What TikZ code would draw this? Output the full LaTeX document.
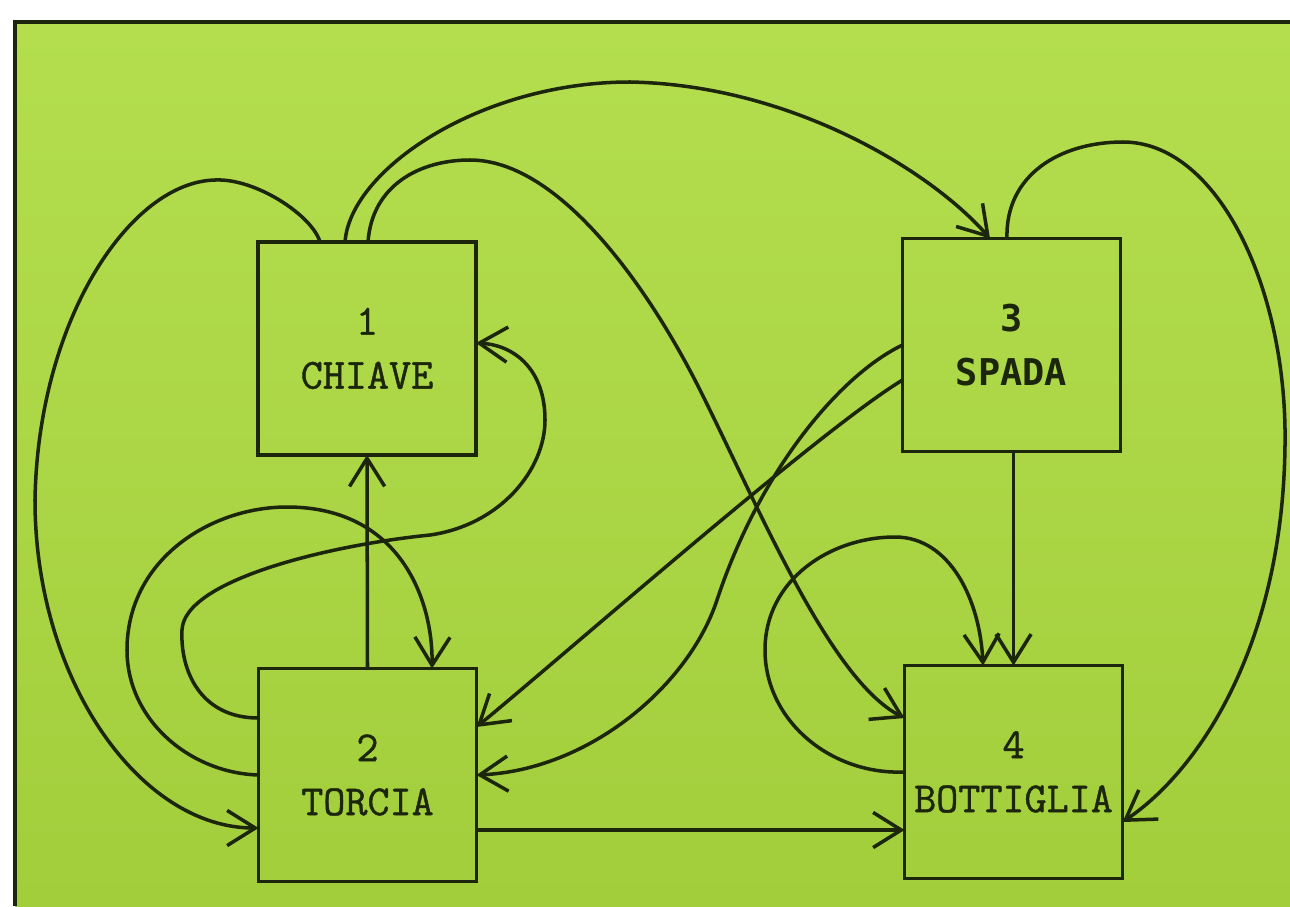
\documentclass[tikz,border=0pt]{standalone}
\usepackage{fontspec}
\newfontfamily\courierface[FakeBold=1]{Latin Modern Mono}
\newfontfamily\gothicface{DejaVu Sans Mono}
\usetikzlibrary{arrows.meta,calc}
\definecolor{paperlight}{HTML}{B4DE4E}
\definecolor{paperdark}{HTML}{A3CE3C}
\definecolor{ink}{HTML}{1C260C}
\tikzset{
  item/.style={draw=ink, line width=2pt, minimum width=4.36cm, minimum height=4.26cm,
    inner sep=0pt, outer sep=0pt, align=center, text=ink,
    font=\courierface\fontsize{24.4}{30.7}\selectfont},
  link/.style={draw=ink, line width=2pt, -{Straight Barb[length=16pt,width=20pt]}},
  frame/.style={draw=ink, line width=1.8pt}
}
\begin{document}
\begin{tikzpicture}[x=0.02cm,y=-0.02cm]
\useasboundingbox (0,0) rectangle (1290,906);
% paper and its frame
\fill[white] (0,0) rectangle (1290,906);
\fill[top color=paperlight, bottom color=paperdark] (15,22) rectangle (1290,906);
\draw[frame] (15,906) -- (15,22) -- (1290,22);

% the four objects
\node[item] (b1) at (367,348.5) {1\\CHIAVE};
\node[item] (b2) at (367.5,775) {2\\TORCIA};
\node[item, font=\gothicface\bfseries\fontsize{21}{30.7}\selectfont] (b3) at (1011.5,345) {3\\SPADA};
\node[item] (b4) at (1013.5,772) {4\\BOTTIGLIA};

% 1 -> 2, round the left side
\draw[link] ($(b1.north west)+(62,0)$) .. controls (312,215) and (255,178) .. (215,180)
  .. controls (130,182) and (38,320) .. (35,500)
  .. controls (35,680) and (140,828) .. ($(b2.west)+(0,53)$);
% 1 -> 3, over the top
\draw[link] ($(b1.north west)+(87,0)$) .. controls (350,170) and (480,82) .. (630,82)
  .. controls (790,85) and (930,170) .. ($(b3.north)+(-21.5,0)$);
% 1 -> 4, across the middle
\draw[link] ($(b1.north)+(1,0)$) .. controls (372,185) and (420,160) .. (470,160)
  .. controls (560,160) and (650,290) .. (700,390)
  .. controls (760,510) and (830,680) .. ($(b4.west)+(0,-54)$);
% 2 -> 1, straight up
\draw[link] (b2.north) -- (b1.south);
% 2 -> 1, looping round to the right side of 1
\draw[link] ($(b2.west)+(0,-57)$) .. controls (200,718) and (180,670) .. (182,630)
  .. controls (184,580) and (330,545) .. (430,535)
  .. controls (500,525) and (545,470) .. (545,420)
  .. controls (545,370) and (515,345) .. ($(b1.east)+(0,-5.5)$);
% 2 -> 2, loop on the left
\draw[link] (b2.west) .. controls (190,773) and (127,720) .. (127,650)
  .. controls (127,560) and (210,507) .. (287,507)
  .. controls (400,507) and (433,600) .. ($(b2.north)+(64.5,0)$);
% 3 -> 2, the two crossing lines
\draw[link] (b3.west) .. controls (840,375) and (760,470) .. (717,600)
  .. controls (689,685) and (590,770) .. (b2.east);
\draw[link] ($(b3.west)+(0,35)$) .. controls (820,430) and (570,650) .. ($(b2.east)+(0,-48)$);
% 3 -> 4, straight down
\draw[link] (b3.south -| b4.north) -- (b4.north);
% 3 -> 4, round the right side
\draw[link] ($(b3.north)+(-4.5,0)$) .. controls (1005,175) and (1060,142) .. (1123,142)
  .. controls (1215,142) and (1283,280) .. (1285,430)
  .. controls (1287,640) and (1200,770) .. ($(b4.east)+(0,50)$);
% 4 -> 4, loop on the left
\draw[link] (b4.west) .. controls (830,775) and (765,720) .. (765,650)
  .. controls (765,580) and (830,537) .. (895,537)
  .. controls (950,537) and (980,600) .. ($(b4.north)+(-30.5,0)$);
% 2 -> 4, along the bottom
\draw[link] ($(b2.east)+(0,55)$) -- ($(b4.west)+(0,58)$);
\end{tikzpicture}
\end{document}
